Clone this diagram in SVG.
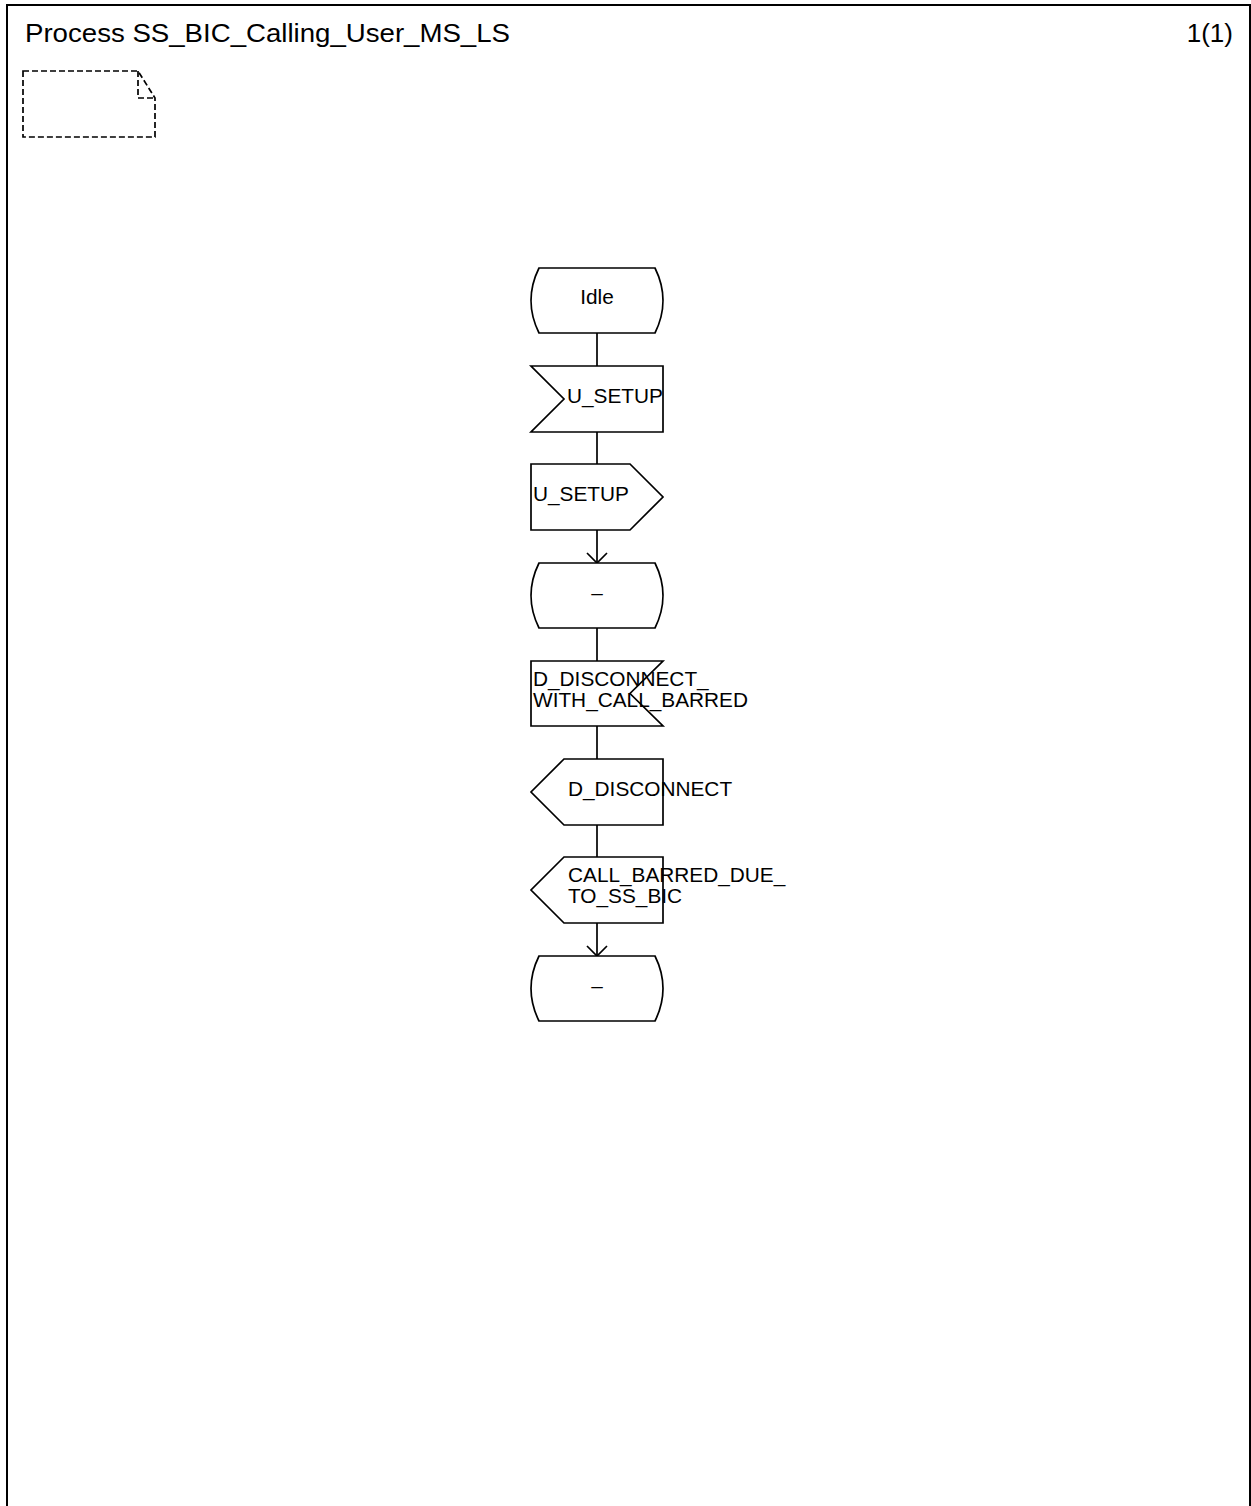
<svg xmlns="http://www.w3.org/2000/svg" width="1251" height="1506" viewBox="0 0 1251 1506">
<style>
.s{fill:none;stroke:#000;stroke-width:1.7}
.f{fill:#fff;stroke:#000;stroke-width:1.7}
.t{font-family:"Liberation Sans",Arial,sans-serif;font-size:20.8px;fill:#000}
.h{font-family:"Liberation Sans",Arial,sans-serif;font-size:26px;fill:#000}
</style>
<defs>
<marker id="arr" markerWidth="14" markerHeight="24" refX="11" refY="11" orient="auto" markerUnits="userSpaceOnUse" viewBox="0 0 14 24">
<path d="M1,1 L11,11 L1,21" fill="none" stroke="#000" stroke-width="1.7"/>
</marker>
</defs>
<rect width="1251" height="1506" fill="#fff"/>
<g id="frame">
<path d="M7,1510 L7,5 L1250,5 L1250,1510" fill="none" stroke="#000" stroke-width="2"/>
<text class="h" x="25" y="42" textLength="485" lengthAdjust="spacingAndGlyphs">Process SS_BIC_Calling_User_MS_LS</text>
<text class="h" x="1233" y="42" text-anchor="end">1(1)</text>
</g>
<g id="comment">
<path d="M23,71 L138,71 L155,98 L155,137 L23,137 Z" fill="none" stroke="#000" stroke-width="1.7" stroke-dasharray="6,3"/>
<path d="M138,71 L138,98 L155,98" fill="none" stroke="#000" stroke-width="1.7" stroke-dasharray="6,3"/>
</g>
<g id="connectors">
<line class="s" x1="597" y1="333" x2="597" y2="366"/>
<line class="s" x1="597" y1="432" x2="597" y2="464"/>
<line class="s" x1="597" y1="530" x2="597" y2="563" marker-end="url(#arr)"/>
<line class="s" x1="597" y1="628" x2="597" y2="661"/>
<line class="s" x1="597" y1="726" x2="597" y2="759"/>
<line class="s" x1="597" y1="825" x2="597" y2="857"/>
<line class="s" x1="597" y1="923" x2="597" y2="956" marker-end="url(#arr)"/>
</g>
<g id="state_idle">
<path class="f" d="M539,268 L655,268 Q671,300.5 655,333 L539,333 Q523,300.5 539,268 Z"/>
<text class="t" x="597" y="304" text-anchor="middle">Idle</text>
</g>
<g id="input_u_setup">
<path class="f" d="M531,366 L663,366 L663,432 L531,432 L564,399 Z"/>
<text class="t" x="567" y="403">U_SETUP</text>
</g>
<g id="output_u_setup">
<path class="f" d="M531,464 L630,464 L663,497 L630,530 L531,530 Z"/>
<text class="t" x="533" y="501">U_SETUP</text>
</g>
<g id="state_dash1">
<path class="f" d="M539,563 L655,563 Q671,595.5 655,628 L539,628 Q523,595.5 539,563 Z"/>
<text class="t" x="597" y="600" text-anchor="middle">–</text>
</g>
<g id="input_d_disconnect_with_call_barred">
<path class="f" d="M531,661 L663,661 L630,693.5 L663,726 L531,726 Z"/>
<text class="t" x="533" y="686">D_DISCONNECT_</text>
<text class="t" x="533" y="707">WITH_CALL_BARRED</text>
</g>
<g id="output_d_disconnect">
<path class="f" d="M564,759 L663,759 L663,825 L564,825 L531,792 Z"/>
<text class="t" x="568" y="796">D_DISCONNECT</text>
</g>
<g id="output_call_barred">
<path class="f" d="M564,857 L663,857 L663,923 L564,923 L531,890 Z"/>
<text class="t" x="568" y="882">CALL_BARRED_DUE_</text>
<text class="t" x="568" y="903">TO_SS_BIC</text>
</g>
<g id="state_dash2">
<path class="f" d="M539,956 L655,956 Q671,988.5 655,1021 L539,1021 Q523,988.5 539,956 Z"/>
<text class="t" x="597" y="993" text-anchor="middle">–</text>
</g>
</svg>
